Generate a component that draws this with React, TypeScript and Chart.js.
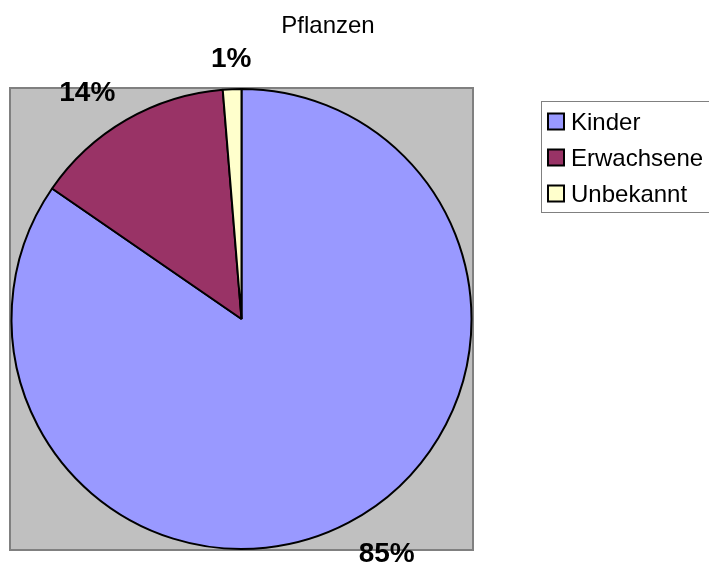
import React, { useEffect, useRef } from "react";
import { Chart, registerables } from "chart.js";

Chart.register(...registerables);

const titleText = "Pflanzen";
const categories = ["Kinder", "Erwachsene", "Unbekannt"];
const values = [84.6, 14.1, 1.3];
const colors = ["#9999FF", "#993366", "#FFFFCC"];

const FONT = "'Liberation Sans', Arial, sans-serif";

const decorPlugin = {
  id: "decor",
  beforeDraw(chart: any) {
    const { ctx, chartArea } = chart;
    ctx.save();
    ctx.fillStyle = "#FFFFFF";
    ctx.fillRect(0, 0, chart.width, chart.height);
    // plot area
    ctx.fillStyle = "#C0C0C0";
    ctx.fillRect(chartArea.left, chartArea.top, chartArea.right - chartArea.left, chartArea.bottom - chartArea.top);
    ctx.strokeStyle = "#808080";
    ctx.lineWidth = 2;
    ctx.strokeRect(chartArea.left, chartArea.top, chartArea.right - chartArea.left, chartArea.bottom - chartArea.top);
    // title
    ctx.fillStyle = "#000";
    ctx.font = `24px ${FONT}`;
    ctx.textAlign = "center";
    ctx.textBaseline = "alphabetic";
    ctx.fillText(titleText, 328, 33);
    // legend
    const lx = 541, ly = 101, lw = 180, lh = 111;
    ctx.strokeStyle = "#808080";
    ctx.lineWidth = 1;
    ctx.strokeRect(lx + 0.5, ly + 0.5, lw, lh);
    ctx.font = `24px ${FONT}`;
    ctx.textAlign = "left";
    ctx.textBaseline = "alphabetic";
    categories.forEach((c, i) => {
      const cy = ly + 20.5 + i * 36;
      ctx.fillStyle = colors[i];
      ctx.fillRect(548, cy - 8, 16, 16);
      ctx.strokeStyle = "#000";
      ctx.lineWidth = 2;
      ctx.strokeRect(548, cy - 8, 16, 16);
      ctx.fillStyle = "#000";
      ctx.fillText(c, 571, cy + 8.5);
    });
    ctx.restore();
  },
  afterDatasetsDraw(chart: any) {
    const { ctx } = chart;
    const meta = chart.getDatasetMeta(0);
    const total = values.reduce((a, b) => a + b, 0);
    const size = 28;
    const cap = size * 0.716;
    ctx.save();
    ctx.font = `bold ${size}px ${FONT}`;
    ctx.fillStyle = "#000";
    ctx.textBaseline = "alphabetic";
    meta.data.forEach((arc: any, i: number) => {
      const mid = (arc.startAngle + arc.endAngle) / 2;
      const cos = Math.cos(mid), sin = Math.sin(mid);
      const r = arc.outerRadius + 22;
      const x = arc.x + r * cos;
      const y = arc.y + r * sin;
      ctx.textAlign = cos > 0.3 ? "left" : cos < -0.3 ? "right" : "center";
      const by = sin > 0.3 ? y + cap : sin < -0.3 ? y : y + cap / 2;
      ctx.fillText(Math.round((values[i] / total) * 100) + "%", x, by);
    });
    ctx.restore();
  },
};

export default function App() {
  const ref = useRef<HTMLCanvasElement>(null);
  useEffect(() => {
    document.body.style.margin = "0";
    const chart = new Chart(ref.current!, {
      type: "pie",
      data: {
        labels: categories,
        datasets: [
          {
            data: values,
            backgroundColor: colors,
            borderColor: "#000000",
            borderWidth: 2,
          },
        ],
      },
      options: {
        responsive: false,
        animation: false,
        layout: { padding: { left: 10, right: 236, top: 88, bottom: 16 } },
        plugins: {
          legend: { display: false },
          title: { display: false },
          tooltip: { enabled: false },
        },
      },
      plugins: [decorPlugin],
    });
    return () => chart.destroy();
  }, []);
  return (
    <div style={{ width: 709, height: 566 }}>
      <canvas ref={ref} width={709} height={566} style={{ display: "block" }} />
    </div>
  );
}
